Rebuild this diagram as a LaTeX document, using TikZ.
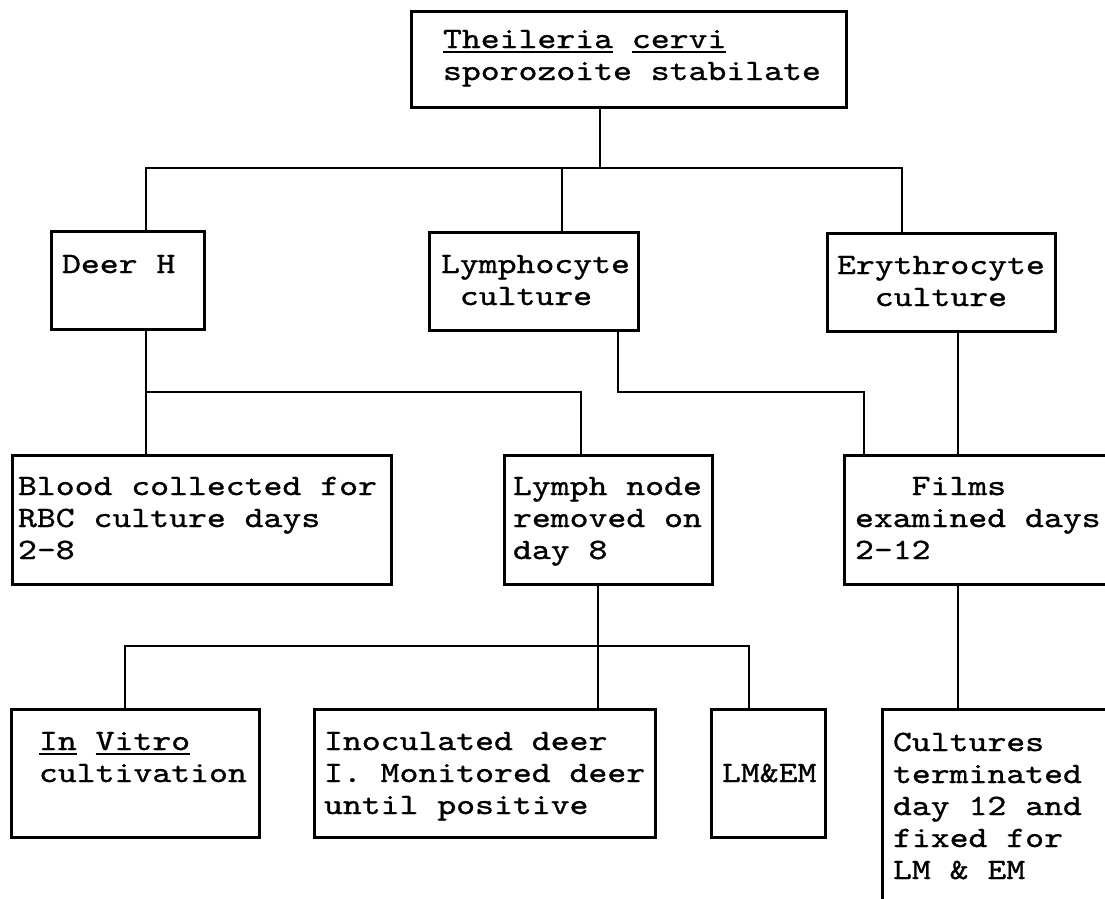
\documentclass[tikz,border=0pt]{standalone}
\usepackage{fontspec}
\newfontfamily\tf{lmmono10-regular.otf}[FakeStretch=1.22,FakeBold=1]
\newcommand\ul[1]{\setbox0\hbox{#1}\rlap{\rule[-5pt]{\wd0}{2.2pt}}\box0\relax}
\newcommand\ml[1]{\begin{tabular}[t]{@{}l@{}}#1\end{tabular}}
\begin{document}
\begin{tikzpicture}[x=1pt,y=-1pt,
  box/.style={draw, line width=3pt, rectangle, inner sep=0pt, outer sep=0pt, anchor=north west},
  txt/.style={anchor=base west, inner sep=0pt, outer sep=0pt, font=\tf\fontsize{29.5}{32}\selectfont},
  link/.style={line width=2.8pt, line join=miter}]
\fill[white] (0,0) rectangle (1105,898);
\useasboundingbox (0,0) rectangle (1105,898);
% boxes
\node[box, minimum width=435pt, minimum height=96pt] (T) at (411,11) {};
\node[box, minimum width=153pt, minimum height=98pt] (DH) at (51,231) {};
\node[box, minimum width=209pt, minimum height=98pt] (LC) at (429,232) {};
\node[box, minimum width=228pt, minimum height=98pt] (EC) at (827,233) {};
\node[box, minimum width=379pt, minimum height=129pt] (BC) at (12,455) {};
\node[box, minimum width=208pt, minimum height=129pt] (LN) at (504,455) {};
\node[box, minimum width=290pt, minimum height=129pt] (FE) at (844,455) {};
\node[box, minimum width=248pt, minimum height=128pt] (IV) at (11,709) {};
\node[box, minimum width=341pt, minimum height=128pt] (IN) at (314,709) {};
\node[box, minimum width=114pt, minimum height=128pt] (LE) at (711,709) {};
\node[box, minimum width=250pt, minimum height=215pt] (CU) at (882,709) {};
% texts
\node[txt] (tT) at (443,48) {\ml{\ul{Theileria} \ul{cervi}\\sporozoite stabilate}};
\node[txt] (tDH) at (62,273) {\ml{Deer H}};
\node[txt] (tLC) at (441,273) {\ml{Lymphocyte\\\phantom{x}culture}};
\node[txt] (tEC) at (837,274) {\ml{Erythrocyte\\\phantom{xx}culture}};
\node[txt] (tBC) at (18,495) {\ml{Blood collected for\\RBC culture days\\2-8}};
\node[txt] (tLN) at (513,495) {\ml{Lymph node\\removed on\\day 8}};
\node[txt] (tFE) at (855,495) {\ml{\phantom{xxx}Films\\examined days\\2-12}};
\node[txt] (tIV) at (39,750) {\ml{\ul{In} \ul{Vitro}\\cultivation}};
\node[txt] (tIN) at (324,750) {\ml{Inoculated deer\\I. Monitored deer\\until positive}};
\node[txt] (tLE) at (722,782) {\ml{LM\&EM}};
\node[txt] (tCU) at (893,751) {\ml{Cultures\\terminated\\day 12 and\\fixed for\\LM \& EM}};
% junctions
\coordinate (j0) at (600,168);
\coordinate (j1) at (146,168);
\coordinate (j2) at (562,168);
\coordinate (j3) at (902,168);
\coordinate (k1) at (146,392);
\coordinate (k2) at (581,392);
\coordinate (k3) at (618,392);
\coordinate (k4) at (864,392);
\coordinate (k5) at (958,392);
\coordinate (m0) at (598,646);
\coordinate (m1) at (125,646);
\coordinate (m2) at (749,646);
\coordinate (m3) at (958,646);
% connectors
\draw[link] (T.south -| j0) -- (j0);
\draw[link] (j1 |- DH.north) -- (j1) -- (j3) -- (j3 |- EC.north);
\draw[link] (j2) -- (j2 |- LC.north);
\draw[link] (DH.south -| k1) -- (k1 |- BC.north);
\draw[link] (k1) -- (k2) -- (k2 |- LN.north);
\draw[link] (LC.south -| k3) -- (k3) -- (k4) -- (k4 |- FE.north);
\draw[link] (EC.south -| k5) -- (k5 |- FE.north);
\draw[link] (LN.south -| m0) -- (m0 |- IN.north);
\draw[link] (m1 |- IV.north) -- (m1) -- (m2) -- (m2 |- LE.north);
\draw[link] (FE.south -| m3) -- (m3 |- CU.north);
\end{tikzpicture}
\end{document}
